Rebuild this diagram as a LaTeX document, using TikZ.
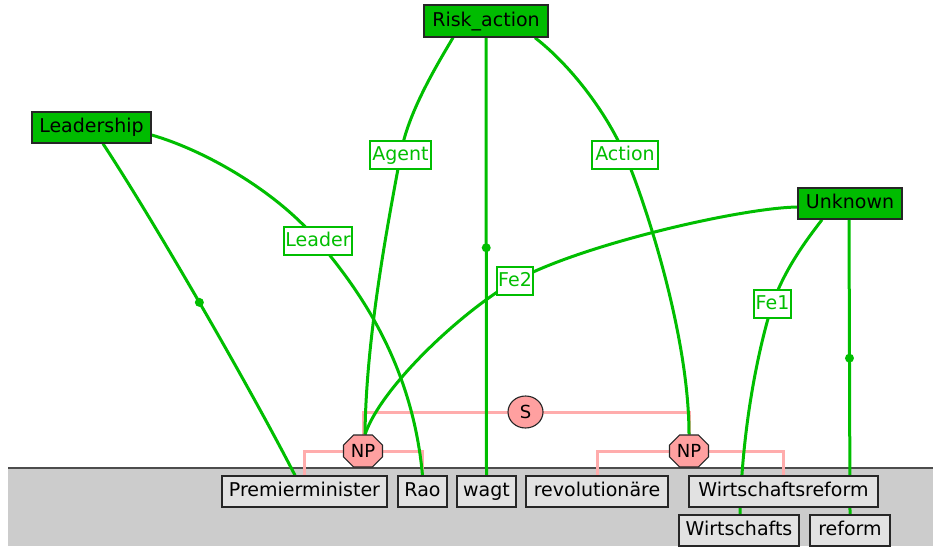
\documentclass[tikz,border=0pt]{standalone}
\usepackage{fontspec}
\setmainfont{DejaVu Sans}
\usetikzlibrary{shapes.misc,shapes.geometric}
\definecolor{fgreen}{RGB}{0,188,0}
\definecolor{lgreen}{RGB}{0,190,0}
\definecolor{pinkl}{RGB}{255,172,172}
\definecolor{pinkf}{RGB}{255,160,160}
\definecolor{bggray}{RGB}{204,204,204}
\definecolor{boxgray}{RGB}{226,226,226}
\pgfdeclarelayer{back}
\pgfdeclarelayer{mid}
\pgfsetlayers{back,mid,main}
\begin{document}
\begin{tikzpicture}[x=1pt,y=-1pt,
  every node/.style={font=\fontsize{19}{22}\selectfont, inner sep=0pt, text height=14pt, text depth=4pt},
  frame/.style={draw=black!85, fill=fgreen, line width=1.4pt, minimum height=31pt},
  role/.style={draw=lgreen, fill=white, text=lgreen, line width=1.5pt, minimum height=28pt},
  word/.style={draw=black!85, fill=boxgray, line width=1.4pt, minimum height=31pt},
  edge/.style={draw=lgreen, line width=3pt},
  synl/.style={draw=pinkl, line width=3pt},
  npnode/.style={chamfered rectangle, chamfered rectangle xsep=10pt, draw=black!85, fill=pinkf, line width=1.1pt, minimum width=39pt, minimum height=32pt, font=\fontsize{18}{20}\selectfont, text height=13pt, text depth=0pt},
  snode/.style={ellipse, draw=black!85, fill=pinkf, line width=1.1pt, minimum width=35pt, minimum height=32pt, font=\fontsize{18}{20}\selectfont, text height=13pt, text depth=0pt},
  fedot/.style={circle, fill=lgreen, minimum size=9pt, inner sep=0pt, text height=0pt, text depth=0pt}
]
\useasboundingbox (0,0) rectangle (933,546);

% frames
\node[frame, minimum width=124pt, minimum height=32pt] (ra) at (486,21) {Risk\_action};
\node[frame, minimum width=119pt] (lead) at (91.5,127.5) {Leadership};
\node[frame, minimum width=104pt] (unk) at (850,203.5) {Unknown};

% role labels
\node[role, minimum width=61pt] (agent) at (400.5,155) {Agent};
\node[role, minimum width=68pt] (leader) at (318,241) {Leader};
\node[role, minimum width=66pt] (action) at (625,155) {Action};
\node[role, minimum width=36pt] (fe2) at (515,281) {Fe2};
\node[role, minimum width=37pt] (fe1) at (772.5,304) {Fe1};

% words
\node[word, minimum width=165pt] (prem) at (304.5,491.5) {Premierminister};
\node[word, minimum width=49pt] (rao) at (422.5,491.5) {Rao};
\node[word, minimum width=59pt] (wagt) at (486.5,491.5) {wagt};
\node[word, minimum width=142pt] (revo) at (597,491.5) {revolutionäre};
\node[word, minimum width=189pt] (wirtref) at (783.5,491.5) {Wirtschaftsreform};
\node[word, minimum width=120pt] (wirt) at (739,530.5) {Wirtschafts};
\node[word, minimum width=80pt] (reform) at (850,530.5) {reform};

% syntax
\node[snode] (s) at (525.5,412) {S};
\node[npnode] (npl) at (363,451) {NP};
\node[npnode] (npr) at (689,451) {NP};

\begin{pgfonlayer}{back}
\fill[bggray] (8,468) rectangle (933,546);
\draw[black!70, line width=1.5pt] (8,468) -- (933,468);
\end{pgfonlayer}

\begin{pgfonlayer}{mid}
\draw[synl] (npl.center) |- (s.center) -| (npr.center);
\draw[synl] (prem.north) |- (npl.center) -| (rao.north);
\draw[synl] (revo.north) |- (npr.center) -| (wirtref.north);

\draw[edge] ([xshift=11.5pt]lead.south) .. controls (152,218) and (247,382) .. ([xshift=-9.5pt]prem.north) node[fedot,pos=0.5]{};
\draw[edge] ([yshift=-7.5pt]lead.east) .. controls (210,152) and (280,195) .. (leader.center)
  .. controls (355,285) and (412,360) .. (rao.north);
\draw[edge] ([xshift=-33pt]ra.south) .. controls (435,68) and (407,115) .. (agent.center)
  .. controls (392,203) and (366,330) .. ([xshift=2pt]npl.north);
\draw[edge] (ra.south) -- node[fedot,pos=0.48]{} (wagt.north);
\draw[edge] ([xshift=49pt]ra.south) .. controls (570,65) and (605,110) .. (action.center)
  .. controls (641,191) and (689,330) .. (npr.north);
\draw[edge] ([yshift=-3.5pt]unk.west) .. controls (740,208) and (580,245) .. (fe2.center)
  .. controls (465,309) and (382,385) .. ([xshift=2pt]npl.north);
\draw[edge] ([xshift=-28pt]unk.south) .. controls (808,238) and (785,268) .. (fe1.center)
  .. controls (768,317) and (743,400) .. ([xshift=1pt]wirt.north);
\draw[edge] ([xshift=-1pt]unk.south) -- node[fedot,pos=0.47]{} (reform.north);
\end{pgfonlayer}
\end{tikzpicture}
\end{document}
